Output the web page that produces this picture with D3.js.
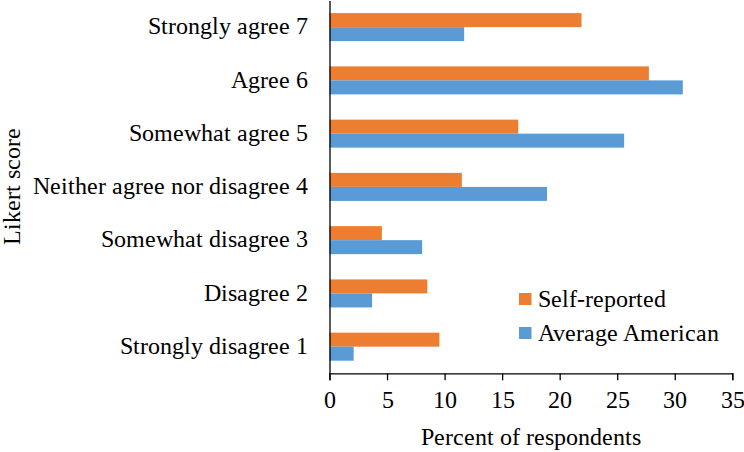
<!DOCTYPE html>
<html>
<head>
<meta charset="utf-8">
<script src="https://cdn.jsdelivr.net/npm/d3@7"></script>
<style>
  @font-face { font-family: "ChartSerif"; src: local("Liberation Serif"), local("LiberationSerif"), local("Liberation Serif Regular"), local("LiberationSerif-Regular"), local("Times New Roman"), local("Tinos"); }
  html, body { margin: 0; padding: 0; background: #fff; }
  svg { display: block; }
</style>
</head>
<body>
<svg id="chart" width="744" height="452"></svg>
<script>
const categories = [
  "Strongly agree 7",
  "Agree 6",
  "Somewhat agree 5",
  "Neither agree nor disagree 4",
  "Somewhat disagree 3",
  "Disagree 2",
  "Strongly disagree 1"
];
const seriesNames = ["Self-reported", "Average American"];
const selfReported = [21.9, 27.75, 16.4, 11.5, 4.55, 8.5, 9.55];
const averageAmerican = [11.7, 30.7, 25.6, 18.9, 8.05, 3.7, 2.1];
const xTicks = [0, 5, 10, 15, 20, 25, 30, 35];
const colors = ["#ED7D31", "#5B9BD5"];

const FONT = 'ChartSerif, "Liberation Serif", Tinos, "Times New Roman", serif';
const svg = d3.select("#chart");
const mLeft = 329.5, mRight = 732.3, mTop = 0.5, mBottom = 373.3;

const x = d3.scaleLinear().domain([0, 35]).range([mLeft, mRight]);
const y = d3.scaleBand().domain(categories).range([mTop, mBottom]).padding(0);
const inner = d3.scaleBand().domain(seriesNames)
  .range([y.bandwidth() * 0.237, y.bandwidth() * 0.763]).padding(0);

const data = categories.map((c, i) => ({
  cat: c,
  values: [selfReported[i], averageAmerican[i]]
}));

const g = svg.append("g");
data.forEach(d => {
  seriesNames.forEach((s, j) => {
    g.append("rect")
      .attr("x", x(0))
      .attr("y", y(d.cat) + inner(s))
      .attr("width", x(d.values[j]) - x(0))
      .attr("height", inner.bandwidth())
      .attr("fill", colors[j]);
  });
});

function styleText(sel) {
  sel.style("font-family", FONT).attr("font-size", 24).attr("fill", "#000");
}

// X axis
const xAxis = d3.axisBottom(x).tickValues(xTicks).tickSize(7).tickSizeOuter(7).tickPadding(11);
const xg = svg.append("g").attr("transform", `translate(0,${mBottom})`).call(xAxis);
xg.attr("font-family", null).attr("font-size", null);
xg.select(".domain").attr("stroke", "#000").attr("stroke-width", 1.3);
xg.selectAll(".tick line").attr("stroke", "#000").attr("stroke-width", 1.3);
xg.selectAll(".tick text").call(styleText);

// Y axis
const yAxis = d3.axisLeft(y).tickSize(0).tickSizeOuter(0).tickPadding(22);
const yg = svg.append("g").attr("transform", `translate(${mLeft},0)`).call(yAxis);
yg.attr("font-family", null).attr("font-size", null);
yg.select(".domain").attr("stroke", "#000").attr("stroke-width", 1.3);
yg.selectAll(".tick text").call(styleText).attr("dy", "0.3em");

// Axis titles
svg.append("text")
  .attr("x", (mLeft + mRight) / 2)
  .attr("y", 445)
  .attr("text-anchor", "middle")
  .call(styleText)
  .text("Percent of respondents");

svg.append("text")
  .attr("transform", `translate(20,${(mTop + mBottom) / 2}) rotate(-90)`)
  .attr("text-anchor", "middle")
  .call(styleText)
  .text("Likert score");

// Legend
const legend = svg.append("g").attr("transform", "translate(519,293)");
seriesNames.forEach((s, j) => {
  const row = legend.append("g").attr("transform", `translate(0,${j * 34})`);
  row.append("rect").attr("width", 12.5).attr("height", 12).attr("fill", colors[j]);
  row.append("text").attr("x", 19).attr("y", 14).call(styleText).text(s);
});
</script>
</body>
</html>
